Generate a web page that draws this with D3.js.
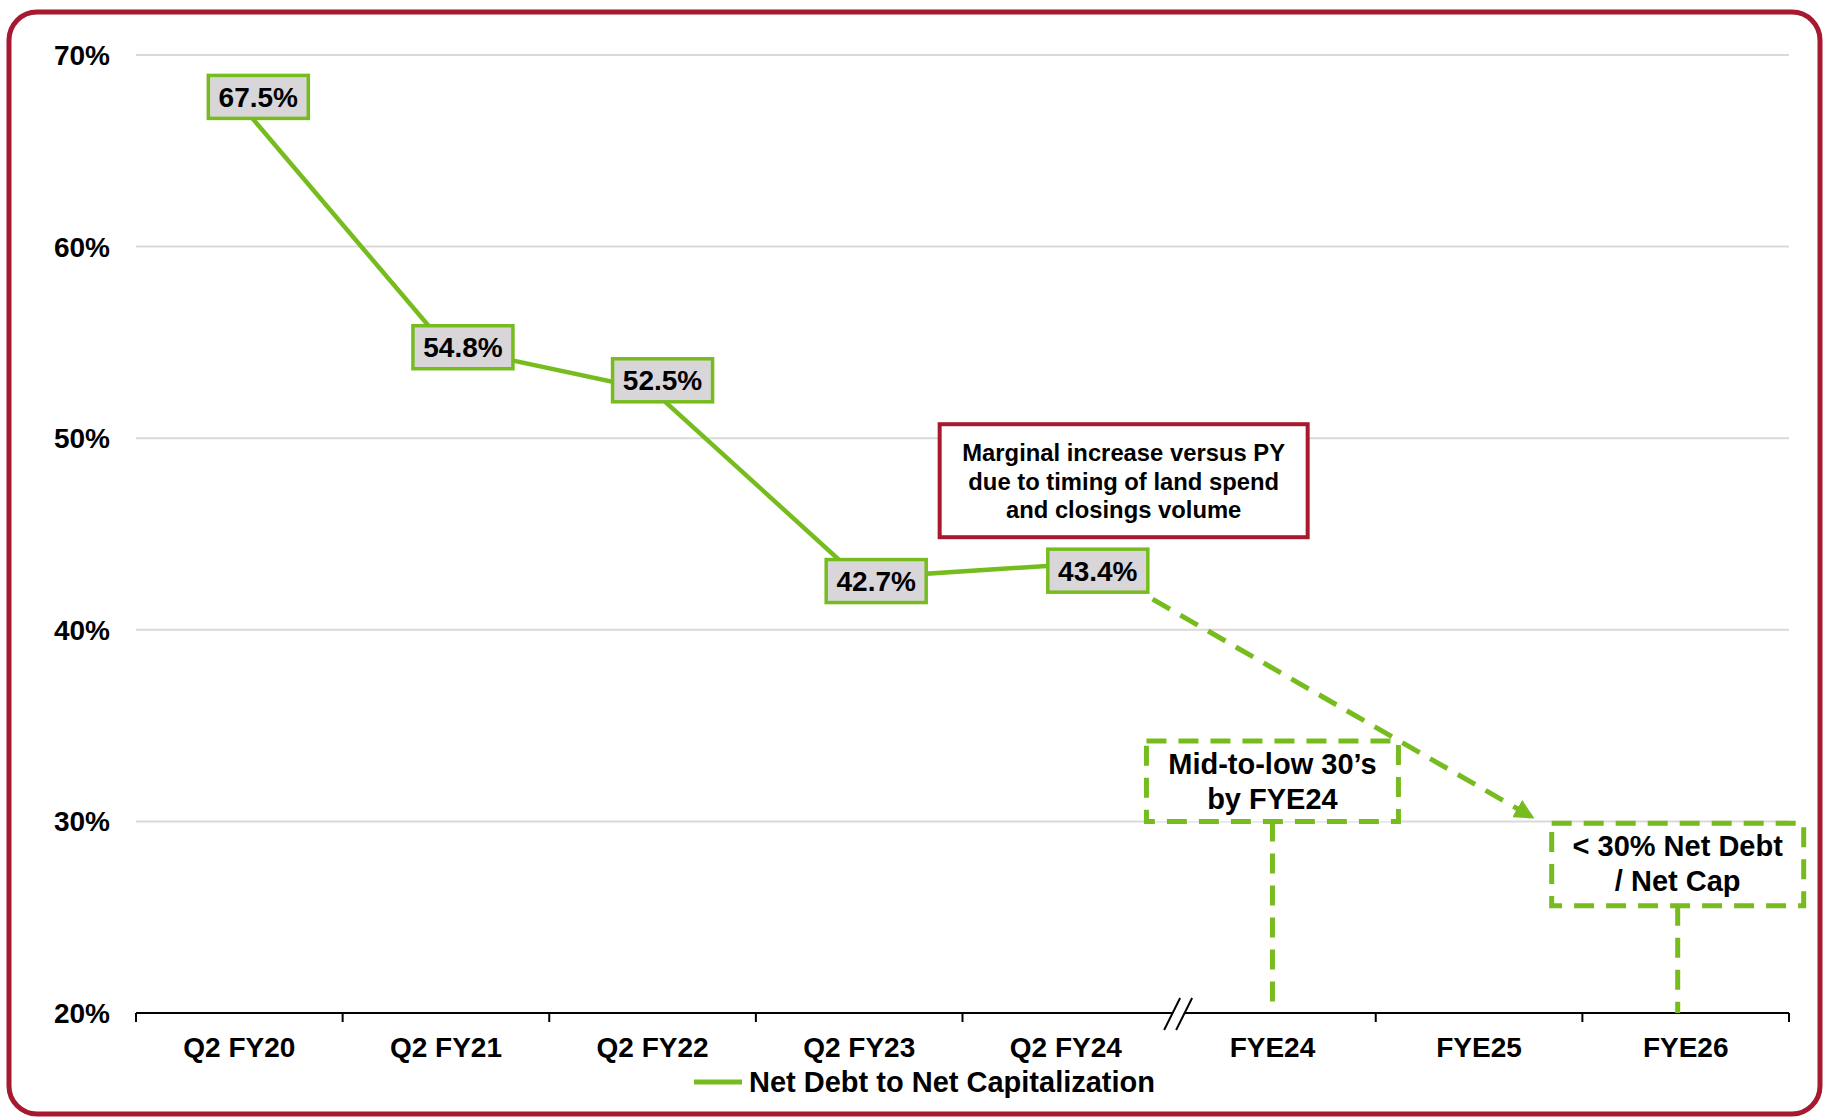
<!DOCTYPE html>
<html>
<head>
<meta charset="utf-8">
<script src="https://cdn.jsdelivr.net/npm/d3@7"></script>
<style>
  body { margin: 0; background: #fff; }
  svg { display: block; font-family: "Liberation Sans", Arial, sans-serif; font-weight: bold; }
</style>
</head>
<body>
<div id="chart"></div>
<script>
// data
const categories = ["Q2 FY20", "Q2 FY21", "Q2 FY22", "Q2 FY23", "Q2 FY24", "FYE24", "FYE25", "FYE26"];
const actualCats = ["Q2 FY20", "Q2 FY21", "Q2 FY22", "Q2 FY23", "Q2 FY24"];
const netDebtPct = [67.5, 54.8, 52.5, 42.7, 43.4];
const yTicks = [20, 30, 40, 50, 60, 70];
const seriesName = "Net Debt to Net Capitalization";
const noteLines = ["Marginal increase versus PY", "due to timing of land spend", "and closings volume"];
const targetCats = ["FYE24", "FYE26"];
const targetLines = [["Mid-to-low 30\u2019s", "by FYE24"], ["< 30% Net Debt", "/ Net Cap"]];
const targetTop = [34.2, 29.9];
const targetBottom = [30.0, 25.6];
// dashed trend arrow, [category position, percent]
const trendFrom = [4.42, 41.6];
const trendTo = [6.26, 30.2];

// layout
const W = 1824, H = 1118;
const green = "#77bc1f", red = "#a6192e";
const labelNudge = [[19, -6], [17, 1], [10, -10], [17, 3], [32, 6]];

const svg = d3.select("#chart").append("svg")
  .attr("width", W).attr("height", H);

// red rounded frame
svg.append("rect")
  .attr("x", 9).attr("y", 12).attr("width", 1811).attr("height", 1102)
  .attr("rx", 28).attr("fill", "none")
  .attr("stroke", red).attr("stroke-width", 5);

const x = d3.scaleBand().domain(categories).range([136, 1789]);
const xi = d3.scaleLinear().domain([-0.5, categories.length - 0.5]).range([136, 1789]);
const cx = c => x(c) + x.bandwidth() / 2;
const y = d3.scaleLinear().domain([20, 70]).range([1013, 55]);

// gridlines
svg.append("g").selectAll("line")
  .data(yTicks.filter(t => t > 20))
  .join("line")
    .attr("x1", 136).attr("x2", 1789)
    .attr("y1", d => y(d)).attr("y2", d => y(d))
    .attr("stroke", "#d9d9d9").attr("stroke-width", 2);

// y labels
svg.append("g").selectAll("text")
  .data(yTicks)
  .join("text")
    .attr("x", 110).attr("y", d => y(d) + 10)
    .attr("text-anchor", "end")
    .attr("font-size", 28)
    .text(d => d + "%");

// x axis line and boundary ticks
svg.append("line")
  .attr("x1", 136).attr("x2", 1789).attr("y1", y(20)).attr("y2", y(20))
  .attr("stroke", "#000").attr("stroke-width", 2);
const bounds = categories.map(c => x(c)).concat([x.range()[1]]);
svg.append("g").selectAll("line")
  .data(bounds.filter((b, i) => i != 5))
  .join("line")
    .attr("x1", d => d).attr("x2", d => d)
    .attr("y1", y(20)).attr("y2", y(20) + 9)
    .attr("stroke", "#000").attr("stroke-width", 2);

// axis break
const bx = x("FYE24") + 9, by = y(20);
svg.append("path")
  .attr("d", `M${bx - 13},${by + 16} L${bx - 2},${by + 16} L${bx + 13},${by - 15} L${bx + 2},${by - 15} Z`)
  .attr("fill", "#fff");
svg.append("g").selectAll("line")
  .data([-6, 6])
  .join("line")
    .attr("x1", d => bx + d - 8).attr("y1", by + 17)
    .attr("x2", d => bx + d + 8).attr("y2", by - 15)
    .attr("stroke", "#000").attr("stroke-width", 2);

// x labels
svg.append("g").selectAll("text")
  .data(categories)
  .join("text")
    .attr("x", d => cx(d)).attr("y", 1057)
    .attr("text-anchor", "middle")
    .attr("font-size", 28)
    .text(d => d);

// actual series line
const pts = actualCats.map((c, i) => [cx(c), y(netDebtPct[i])]);
svg.append("path")
  .attr("d", d3.line()(pts))
  .attr("fill", "none").attr("stroke", green).attr("stroke-width", 4.5);

// dashed trend arrow
svg.append("defs").append("marker")
  .attr("id", "arrow").attr("viewBox", "0 0 10 10")
  .attr("refX", 9).attr("refY", 5)
  .attr("markerWidth", 4).attr("markerHeight", 4)
  .attr("markerUnits", "strokeWidth")
  .attr("orient", "auto")
  .append("path").attr("d", "M0,0 L10,5 L0,10 Z").attr("fill", green);

svg.append("line")
  .attr("x1", xi(trendFrom[0])).attr("y1", y(trendFrom[1]))
  .attr("x2", xi(trendTo[0])).attr("y2", y(trendTo[1]))
  .attr("stroke", green).attr("stroke-width", 5)
  .attr("stroke-dasharray", "20,12")
  .attr("marker-end", "url(#arrow)");

// target boxes with drop lines
const tOffset = [0, -8];
targetCats.forEach((c, i) => {
  const mx = cx(c) + tOffset[i];
  const top = y(targetTop[i]), bot = y(targetBottom[i]);
  svg.append("line")
    .attr("x1", mx).attr("x2", mx).attr("y1", bot).attr("y2", y(20))
    .attr("stroke", green).attr("stroke-width", 5)
    .attr("stroke-dasharray", "20,12");
  svg.append("rect")
    .attr("x", mx - 126).attr("y", top).attr("width", 252).attr("height", bot - top)
    .attr("fill", "#fff").attr("stroke", green).attr("stroke-width", 5)
    .attr("stroke-dasharray", "20,12");
  svg.append("g").selectAll("text")
    .data(targetLines[i])
    .join("text")
      .attr("x", mx).attr("y", (d, j) => top + 33 + j * 35)
      .attr("text-anchor", "middle")
      .attr("font-size", 29)
      .text(d => d);
});

// data label boxes
const lab = svg.append("g").selectAll("g")
  .data(netDebtPct)
  .join("g")
    .attr("transform", (d, i) => `translate(${pts[i][0] + labelNudge[i][0]},${pts[i][1] + labelNudge[i][1]})`);
lab.append("rect")
  .attr("x", -50).attr("y", -21.5).attr("width", 100).attr("height", 43)
  .attr("fill", "#d9d6da").attr("stroke", green).attr("stroke-width", 3.5);
lab.append("text")
  .attr("y", 10).attr("text-anchor", "middle")
  .attr("font-size", 28)
  .text(d => d.toFixed(1) + "%");

// red note box
const nx = xi(4.28), ny = y(50.73);
svg.append("rect")
  .attr("x", nx - 184).attr("y", ny).attr("width", 368).attr("height", 113)
  .attr("fill", "#fff").attr("stroke", red).attr("stroke-width", 4);
svg.append("g").selectAll("text")
  .data(noteLines)
  .join("text")
    .attr("x", nx).attr("y", (d, i) => ny + 37 + i * 28.5)
    .attr("text-anchor", "middle")
    .attr("font-size", 23.8)
    .text(d => d);

// legend
svg.append("line")
  .attr("x1", 694).attr("x2", 742).attr("y1", 1082).attr("y2", 1082)
  .attr("stroke", green).attr("stroke-width", 5);
svg.append("text")
  .attr("x", 749).attr("y", 1092)
  .attr("font-size", 29)
  .text(seriesName);
</script>
</body>
</html>
